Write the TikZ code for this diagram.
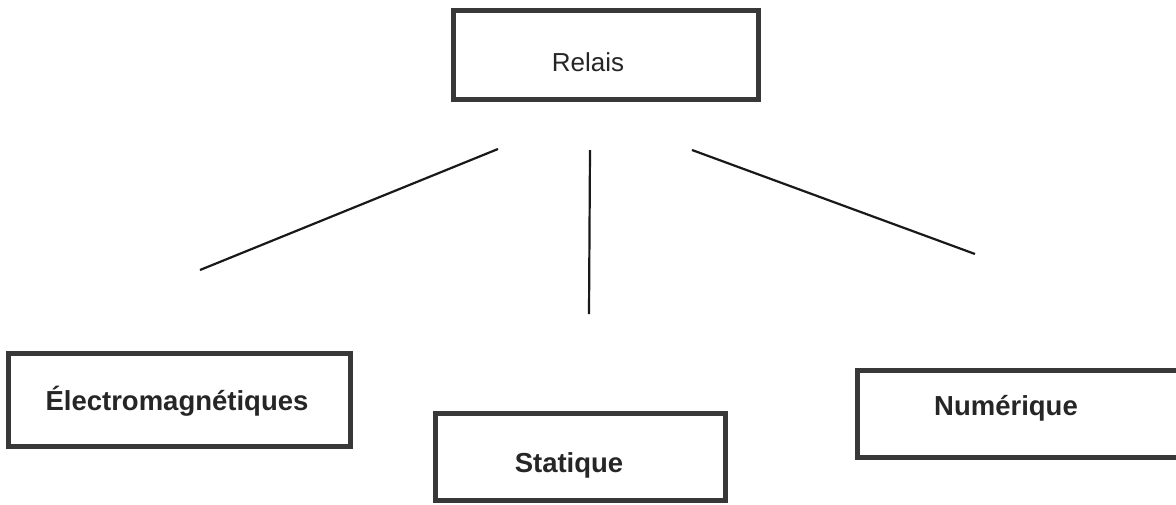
\documentclass[tikz,border=0pt]{standalone}
\usepackage{fontspec}
\setmainfont{Liberation Sans}
\begin{document}
\begin{tikzpicture}[x=1pt,y=-1pt,
  box/.style={draw=black!78, line width=5pt, fill=white, inner sep=0pt, anchor=center},
  lbl/.style={font=\fontsize{27.5}{30}\selectfont\bfseries, text=black!85, inner sep=0pt},
  conn/.style={line width=2.2pt, black!90}]
\useasboundingbox (0,0) rectangle (1176,504);
% boxes
\node[box, minimum width=305pt, minimum height=89pt] (relais) at (605.5,54.5) {};
\node[font=\fontsize{26}{30}\selectfont, text=black!85, inner sep=0pt] (trelais) at (588,62) {Relais};
\node[box, minimum width=342pt, minimum height=93pt] (electro) at (179,399.5) {};
\node[lbl] (telectro) at (177,401) {Électromagnétiques};
\node[box, minimum width=290pt, minimum height=87pt] (statique) at (580,456.5) {};
\node[lbl] (tstatique) at (569,465) {Statique};
\node[box, minimum width=325pt, minimum height=87pt] (numerique) at (1019.5,413.5) {};
\node[lbl] (tnumerique) at (1006,408) {Numérique};
% connector ends
\coordinate (a1) at (498,149);
\coordinate (a2) at (200,270);
\coordinate (b1) at (590,150);
\coordinate (b2) at (589,314);
\coordinate (c1) at (692,150);
\coordinate (c2) at (975,254);
\draw[conn] (a1) -- (a2);
\draw[conn] (b1) -- (b2);
\draw[conn] (c1) -- (c2);
\end{tikzpicture}
\end{document}
